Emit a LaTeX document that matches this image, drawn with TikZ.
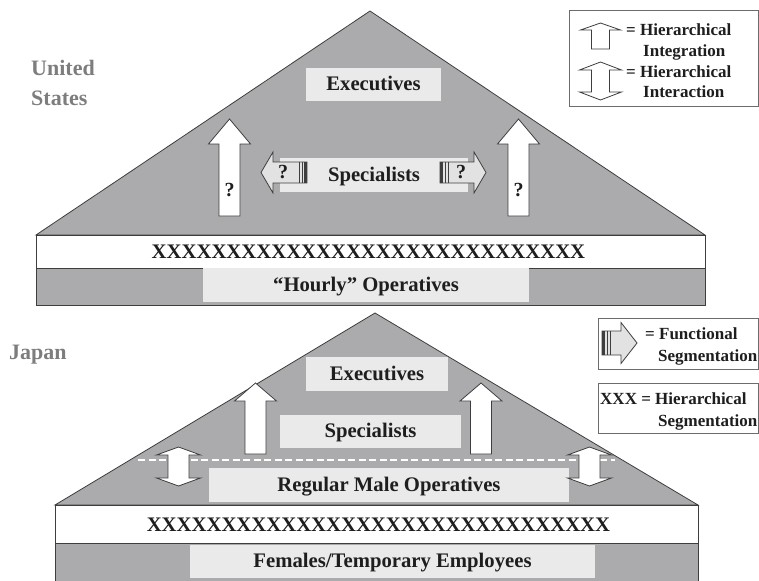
\documentclass[tikz,border=0pt]{standalone}
\usepackage{fontspec}
\setmainfont{Liberation Serif}
\usetikzlibrary{positioning}
\definecolor{roofgray}{RGB}{171,171,173}
\definecolor{boxgray}{RGB}{234,234,235}
\definecolor{edgegray}{RGB}{62,62,62}
\definecolor{namegray}{RGB}{125,125,125}
\definecolor{arrowgray}{RGB}{226,226,227}
\definecolor{inkblack}{RGB}{30,30,30}

% up arrow: centre x, tip y, head base y, bottom y, head half width, shaft half width
\newcommand{\integarrow}[6]{%
  \draw[blockarr] (#1,#2) -- ({#1+#5},#3) -- ({#1+#6},#3) -- ({#1+#6},#4)
    -- ({#1-#6},#4) -- ({#1-#6},#3) -- ({#1-#5},#3) -- cycle;}
% double arrow: centre x, top tip, upper head base, lower head base, bottom tip, head half, shaft half
\newcommand{\interarrow}[7]{%
  \draw[blockarr] (#1,#2) -- ({#1+#6},#3) -- ({#1+#7},#3) -- ({#1+#7},#4) -- ({#1+#6},#4)
    -- (#1,#5) -- ({#1-#6},#4) -- ({#1-#7},#4) -- ({#1-#7},#3) -- ({#1-#6},#3) -- cycle;}
% side arrow: tail x, head base x, tip x, centre y, shaft half, head half, direction
\newcommand{\funcarrow}[7]{%
  \draw[funcarr] (#1,{#4-#5}) -- (#2,{#4-#5}) -- (#2,{#4-#6}) -- (#3,#4)
    -- (#2,{#4+#6}) -- (#2,{#4+#5}) -- (#1,{#4+#5}) -- cycle;
  \draw[edgegray, line width=2.2pt] ({#1+(#7)*1.5},{#4-#5}) -- ({#1+(#7)*1.5},{#4+#5});
  \draw[edgegray, line width=0.7pt] ({#1+(#7)*5},{#4-#5}) -- ({#1+(#7)*5},{#4+#5});
  \draw[edgegray, line width=0.7pt] ({#1+(#7)*8},{#4-#5}) -- ({#1+(#7)*8},{#4+#5});}

\begin{document}
\begin{tikzpicture}
[x=1pt,y=-1pt,
 roof/.style={fill=roofgray,draw=edgegray,line width=0.8pt},
 band/.style={fill=white,draw=edgegray,line width=0.8pt},
 base/.style={fill=roofgray,draw=edgegray,line width=0.8pt},
 lbl/.style={fill=boxgray,inner sep=0pt,text=inkblack,text height=15pt,text depth=3pt,
   font=\fontsize{20.7}{24}\selectfont\bfseries},
 xrow/.style={inner sep=0pt,text=inkblack,font=\fontsize{20.7}{24}\selectfont\bfseries},
 qmark/.style={inner sep=0pt,text=inkblack,font=\fontsize{20}{24}\selectfont\bfseries},
 country/.style={inner sep=0pt,text=namegray,align=left,font=\fontsize{22}{30}\selectfont\bfseries},
 blockarr/.style={fill=white,draw=edgegray,line width=0.8pt,line join=miter},
 funcarr/.style={fill=arrowgray,draw=edgegray,line width=0.8pt,line join=miter},
 legbox/.style={fill=white,draw=gray!85!black,line width=1pt},
 legtxt/.style={inner sep=0pt,anchor=west,text=inkblack,text height=12pt,text depth=3pt,
   font=\fontsize{17}{20}\selectfont\bfseries}]
\useasboundingbox (0,0) rectangle (759,580);

% United States
\draw[roof] (370,11) -- (705,235) -- (36,235) -- cycle;
\draw[band] (36,235) rectangle (705,268);
\draw[base] (36,268) rectangle (705,305);
\node[country,anchor=west] (usname) at (31,83) {United\\States};
\node[lbl,minimum width=135pt,minimum height=33pt] (usexec) at (373.5,84.5) {Executives};
\node[lbl,minimum width=188pt,minimum height=34pt] (usspec) at (374,175) {Specialists};
\node[xrow] (usxxx) at (368.5,251.5) {XXXXXXXXXXXXXXXXXXXXXXXXXXXXX};
\node[lbl,minimum width=326pt,minimum height=34pt] (ushourly) at (366,285) {``Hourly'' Operatives};
\integarrow{229.5}{119}{144}{216}{21}{10.5}
\integarrow{518.5}{119}{144}{216}{21}{10.5}
\node[qmark] (usqleft) at (229.5,190) {?};
\node[qmark] (usqright) at (518.5,190) {?};
\funcarrow{307}{273}{261}{172.5}{10.5}{20.5}{-1}
\funcarrow{440}{474}{486}{172.5}{10.5}{20.5}{1}
\node[qmark] (usqspecl) at (283,172) {?};
\node[qmark] (usqspecr) at (461,172) {?};

% Japan
\draw[roof] (375,313) -- (698,505) -- (55,505) -- cycle;
\draw[band] (55,505) rectangle (698,543);
\draw[base] (55,543) rectangle (698,590);
\node[country,anchor=west] (jpname) at (9,355) {Japan};
\draw[white,line width=1.2pt,dash pattern=on 7pt off 3.5pt] (138,460) -- (615,460);
\node[lbl,minimum width=142pt,minimum height=34pt] (jpexec) at (377,374) {Executives};
\node[lbl,minimum width=181pt,minimum height=33pt] (jpspec) at (370.5,431.5) {Specialists};
\node[lbl,minimum width=360pt,minimum height=34pt] (jpregular) at (389,485) {Regular Male Operatives};
\node[xrow] (jpxxx) at (378.5,524.5) {XXXXXXXXXXXXXXXXXXXXXXXXXXXXXXX};
\node[lbl,minimum width=405pt,minimum height=33pt] (jpfemales) at (392.5,561.5) {Females/Temporary Employees};
\integarrow{255.5}{383}{401}{454}{21}{10.5}
\integarrow{481}{383}{401}{454}{21}{10.5}
\interarrow{178.5}{447}{455}{478}{486}{22}{10.5}
\interarrow{589.5}{447}{455}{478}{486}{22}{10.5}

% legends
\draw[legbox] (569,11) rectangle (758,107);
\integarrow{600.5}{23}{30}{49}{20}{9}
\interarrow{600.5}{62}{70}{92}{100}{21}{9}
\node[legtxt] (legupa) at (626,31) {= Hierarchical};
\node[legtxt] (legupb) at (643,52) {Integration};
\node[legtxt] (legdba) at (626,73) {= Hierarchical};
\node[legtxt] (legdbb) at (643,93) {Interaction};

\draw[legbox] (598,318) rectangle (758,369);
\funcarrow{602}{621}{637}{343}{12}{20.5}{1}
\node[legtxt] (legfna) at (645,335) {= Functional};
\node[legtxt] (legfnb) at (658,357) {Segmentation};

\draw[legbox] (598,383) rectangle (758,433);
\node[legtxt] (legxxa) at (600,400) {XXX = Hierarchical};
\node[legtxt] (legxxb) at (658,422) {Segmentation};
\end{tikzpicture}
\end{document}
